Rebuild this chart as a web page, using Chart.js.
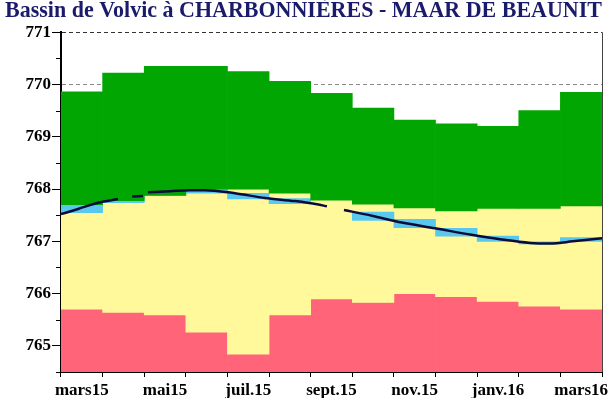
<!DOCTYPE html>
<html>
<head>
<meta charset="utf-8">
<script src="https://cdn.jsdelivr.net/npm/chart.js@4.4.1/dist/chart.umd.min.js"></script>
<style>
  html, body { margin: 0; padding: 0; background: #fff; }
  #wrap { width: 612px; height: 398px; }
</style>
</head>
<body>
<div id="wrap"><canvas id="piezo"></canvas></div>
<script>
// Monthly reference bands (NGF m) and the 2015-16 water level
const months = ['mars15', 'avr.15', 'mai15', 'juin15', 'juil.15', 'août15', 'sept.15',
  'oct.15', 'nov.15', 'déc.15', 'janv.16', 'févr.16', 'mars16'];
const redTop = [765.70, 765.64, 765.59, 765.26, 764.84, 765.59, 765.90, 765.83, 766.00, 765.94, 765.85, 765.76, 765.70];
const greenBottom = [767.70, 767.78, 767.88, 768.00, 768.00, 767.92, 767.79, 767.71, 767.64, 767.58, 767.63, 767.63, 767.68];
const greenTop = [769.86, 770.22, 770.35, 770.35, 770.25, 770.06, 769.83, 769.55, 769.32, 769.25, 769.20, 769.50, 769.85];
const cyanLow = [767.55, 767.74, 767.88, 767.92, 767.81, 767.72, null, 767.40, 767.26, 767.10, 767.00, 766.95, 767.00];
const cyanHigh = [767.70, 767.86, 767.97, 768.00, 767.92, 767.82, null, 767.56, 767.42, 767.25, 767.10, 766.99, 767.07];

// level curve, x in months from 1 March 2015
const lineMonths = [0, 0.41, 0.89, 1.37, 1.5, 1.71, 1.97, 2.03, 2.09, 2.62, 3.10, 3.46, 4.18, 4.90,
  5.62, 6.15, 6.39, 6.6, 6.80, 7.47, 8.19, 8.99, 9.83, 10.55, 11.27, 11.75, 12.30, 13.0];
const lineLevels = [767.52, 767.62, 767.74, 767.81, null, 767.86, 767.87, null, 767.94, 767.96, 767.98, 767.98, 767.92, 767.83,
  767.77, 767.71, 767.67, null, 767.60, 767.49, 767.36, 767.25, 767.13, 767.04, 766.97, 766.96, 767.00, 767.06];

const yTicks = { min: 764.5, max: 771, step: 0.25 };

const serif = "'Liberation Serif', 'Times New Roman', serif";

const pairs = (lo, hi) => lo.map((v, i) => (v === null ? null : [v, hi[i]]));

const band = (label, data, color, order) => ({
  type: 'bar',
  label: label,
  data: data,
  backgroundColor: color,
  borderWidth: 0,
  barPercentage: 1,
  categoryPercentage: 1,
  grouped: false,
  order: order
});

// right frame line and short minor ticks on the y axis
const frame = {
  id: 'frame',
  afterDraw(chart) {
    const { ctx, chartArea } = chart;
    const y = chart.scales.y;
    ctx.save();
    ctx.strokeStyle = '#444';
    ctx.lineWidth = 1;
    ctx.beginPath();
    ctx.moveTo(chartArea.right + 0.5, chartArea.top);
    ctx.lineTo(chartArea.right + 0.5, chartArea.bottom);
    ctx.stroke();
    ctx.strokeStyle = '#000';
    y.ticks.forEach(t => {
      if (Number.isInteger(t.value)) return;
      const py = Math.round(y.getPixelForValue(t.value)) + 0.5;
      ctx.beginPath();
      ctx.moveTo(chartArea.left - 5, py);
      ctx.lineTo(chartArea.left, py);
      ctx.stroke();
    });
    ctx.restore();
  }
};

new Chart(document.getElementById('piezo'), {
  data: {
    labels: months,
    datasets: [
      {
        type: 'line',
        label: 'Niveau',
        xAxisID: 'xt',
        data: lineMonths.map((m, i) => ({ x: m, y: lineLevels[i] })),
        borderColor: '#0b0b3a',
        borderWidth: 2.5,
        pointRadius: 0,
        spanGaps: false,
        cubicInterpolationMode: 'monotone',
        order: 0
      },
      band('Hautes', pairs(greenBottom, greenTop), '#02a602', 1),
      band('Mois', pairs(cyanLow, cyanHigh), '#58c8ee', 2),
      band('Moyennes', pairs(redTop, greenBottom), '#fff99c', 3),
      band('Basses', redTop, '#ff6478', 4)
    ]
  },
  options: {
    responsive: true,
    maintainAspectRatio: false,
    animation: false,
    layout: { padding: { left: 5, right: 10, top: 0, bottom: 0 } },
    plugins: {
      legend: { display: false },
      tooltip: { enabled: false },
      title: {
        display: true,
        text: 'Bassin de Volvic à CHARBONNIÈRES - MAAR DE BEAUNIT',
        align: 'start',
        color: '#1b1b6b',
        font: { family: serif, size: 22.2, weight: 'bold', lineHeight: 1.05 },
        padding: { top: 0, bottom: 9 }
      }
    },
    scales: {
      x: {
        type: 'category',
        offset: true,
        afterFit: s => { s.height = 26; },
        grid: { drawOnChartArea: false, tickLength: 5, tickColor: '#000' },
        border: { color: '#000', width: 2 },
        ticks: {
          autoSkip: false,
          maxRotation: 0,
          padding: 3,
          color: '#000',
          font: { family: serif, size: 17, weight: 'bold' },
          callback: (v, i) => (i % 2 === 0 ? months[i] : '')
        }
      },
      xt: { type: 'linear', display: false, min: 0, max: 13 },
      y: {
        min: yTicks.min,
        max: yTicks.max,
        afterFit: s => { s.width = 56; },
        grid: {
          color: c => (c.tick && c.tick.value === 770 ? '#8a8a8a' : c.tick && c.tick.value === 771 ? '#333' : 'rgba(0,0,0,0)'),
          tickColor: c => (c.tick && Number.isInteger(c.tick.value) ? '#000' : 'rgba(0,0,0,0)'),
          tickLength: 9
        },
        border: { color: '#000', width: 2, dash: [4, 3] },
        ticks: {
          stepSize: yTicks.step,
          padding: 1,
          color: '#000',
          font: { family: serif, size: 17, weight: 'bold' },
          callback: v => (Number.isInteger(v) ? String(v) : '')
        }
      }
    }
  },
  plugins: [frame]
});
</script>
</body>
</html>
